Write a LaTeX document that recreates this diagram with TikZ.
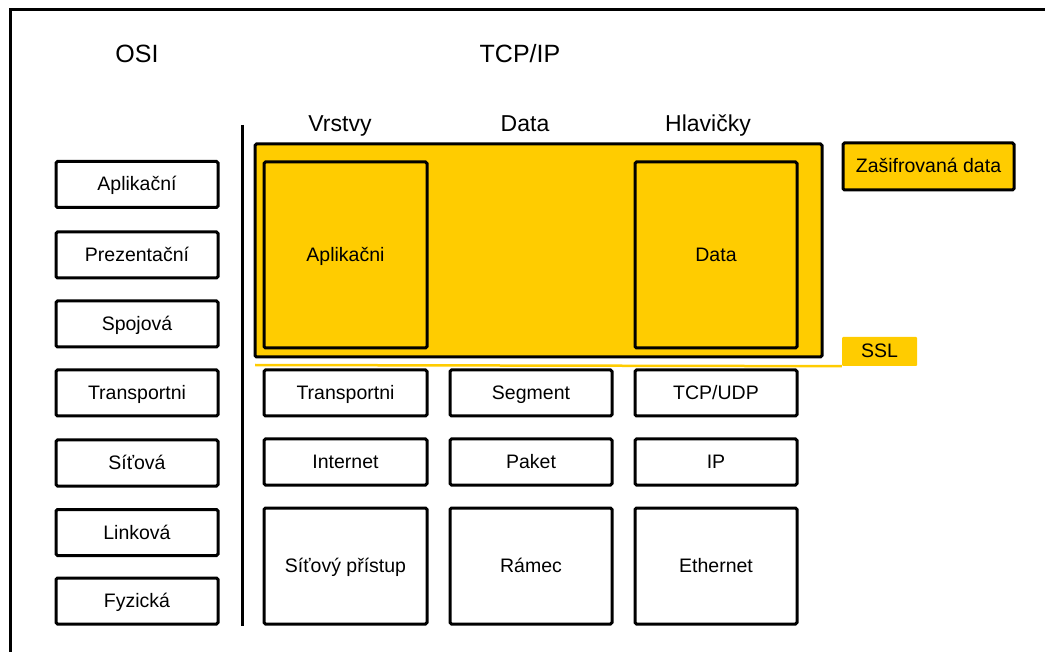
\documentclass[tikz,border=0pt]{standalone}
\usepackage{fontspec}
\setmainfont{Liberation Sans}
\definecolor{ssly}{HTML}{FFCC00}
\begin{document}
\begin{tikzpicture}[x=1pt,y=-1pt,
  box/.style={draw=black,line width=3pt,rounded corners=1.5pt,fill=white,inner sep=0pt,font=\fontsize{19.5}{22}\selectfont,text height=17pt,text depth=4pt},
  ybox/.style={box,fill=ssly},
  title/.style={font=\fontsize{25}{28}\selectfont,inner sep=0pt,anchor=base},
  head/.style={font=\fontsize{23}{26}\selectfont,inner sep=0pt,anchor=base}]
\useasboundingbox (0,0) rectangle (1045,652);
% outer frame (clipped at right and bottom)
\coordinate (fbl) at (10,660);
\coordinate (ftl) at (10,10);
\coordinate (ftr) at (1050,10);
\draw[line width=3pt] (fbl) -- (ftl) -- (ftr);
% titles
\node[title] (osi) at (137,63) {OSI};
\node[title] (tcp) at (520,63) {TCP/IP};
% separator
\coordinate (st) at (242,125);
\coordinate (sb) at (242,626);
\draw[line width=3pt] (st) -- (sb);
% headers
\node[head] (h1) at (340,132) {Vrstvy};
\node[head] (h2) at (525,132) {Data};
\node[head] (h3) at (708,132) {Hlavičky};
% OSI column
\foreach \n/\t/\y in {o1/Aplikační/184.5,o2/Prezentační/255,o3/Spojová/324,o4/Transportni/393,o5/Síťová/463,o6/Linková/532.5,o7/Fyzická/601}
  \node[box,minimum width=162pt,minimum height=46pt] (\n) at (137,\y) {\t};
% SSL big box
\node[ybox,minimum width=567pt,minimum height=213pt] (big) at (538.5,250.5) {};
\node[ybox,minimum width=163pt,minimum height=186pt] (app) at (345.5,255) {Aplikačni};
\node[ybox,minimum width=162pt,minimum height=186pt] (dat) at (716,255) {Data};
\node[ybox,minimum width=171pt,minimum height=47pt] (enc) at (928.5,166.5) {Zašifrovaná data};
\node[fill=ssly,rounded corners=1pt,inner sep=0pt,minimum width=75pt,minimum height=29pt,font=\fontsize{19.5}{22}\selectfont,text height=17pt,text depth=4pt] (ssl) at (879.5,351.5) {SSL};
\coordinate (yl) at (255,365);
\draw[ssly,line width=2.5pt] (yl) -- (ssl.south west);
% lower TCP/IP boxes
\node[box,minimum width=163pt,minimum height=46pt] (t1) at (345.5,393) {Transportni};
\node[box,minimum width=162pt,minimum height=46pt] (t2) at (531,393) {Segment};
\node[box,minimum width=162pt,minimum height=46pt] (t3) at (716,393) {TCP/UDP};
\node[box,minimum width=163pt,minimum height=46pt] (i1) at (345.5,462) {Internet};
\node[box,minimum width=162pt,minimum height=46pt] (i2) at (531,462) {Paket};
\node[box,minimum width=162pt,minimum height=46pt] (i3) at (716,462) {IP};
\node[box,minimum width=163pt,minimum height=116pt] (n1) at (345.5,566) {Síťový přístup};
\node[box,minimum width=162pt,minimum height=116pt] (n2) at (531,566) {Rámec};
\node[box,minimum width=162pt,minimum height=116pt] (n3) at (716,566) {Ethernet};
\end{tikzpicture}
\end{document}
